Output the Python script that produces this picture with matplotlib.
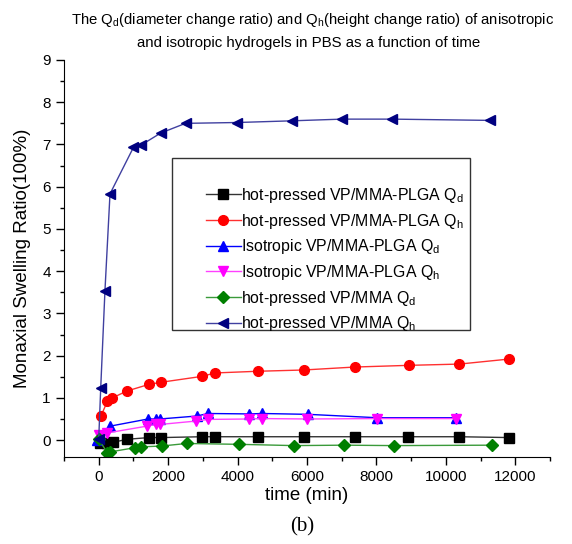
import matplotlib
matplotlib.use("Agg")
import matplotlib.pyplot as plt
from matplotlib.ticker import MultipleLocator
from matplotlib.patches import Rectangle

plt.rcParams['font.family'] = ['Liberation Sans', 'DejaVu Sans']
plt.rcParams['mathtext.fontset'] = 'custom'
plt.rcParams['mathtext.rm'] = 'Liberation Sans'
plt.rcParams['mathtext.it'] = 'Liberation Sans'

# hot-pressed VP/MMA-PLGA Qd
t_pd = [30, 250, 420, 826, 1448, 1800, 2983, 3348, 4590, 5900, 7380, 8920, 10380, 11830]
q_pd = [-0.08, -0.06, -0.05, 0.02, 0.06, 0.06, 0.08, 0.08, 0.08, 0.08, 0.08, 0.08, 0.08, 0.06]
# hot-pressed VP/MMA-PLGA Qh
t_ph = [70, 250, 394, 805, 1448, 1800, 2983, 3348, 4585, 5900, 7370, 8930, 10390, 11830]
q_ph = [0.58, 0.92, 1.00, 1.16, 1.32, 1.37, 1.51, 1.59, 1.63, 1.66, 1.73, 1.77, 1.80, 1.92]
# Isotropic VP/MMA-PLGA Qd
t_id = [-40, 325, 1420, 1660, 1760, 2820, 3155, 4325, 4710, 6035, 8020, 10290]
q_id = [0.00, 0.33, 0.50, 0.50, 0.50, 0.57, 0.63, 0.62, 0.63, 0.61, 0.53, 0.53]
# Isotropic VP/MMA-PLGA Qh
t_ih = [0, 250, 1380, 1640, 1760, 2790, 3155, 4330, 4710, 6000, 8020, 10290]
q_ih = [0.11, 0.17, 0.33, 0.37, 0.37, 0.45, 0.49, 0.50, 0.51, 0.50, 0.51, 0.51]
# hot-pressed VP/MMA Qd
t_md = [0, 250, 325, 1040, 1230, 1813, 2530, 4040, 5620, 7060, 8500, 11330]
q_md = [0.02, -0.30, -0.28, -0.18, -0.16, -0.14, -0.08, -0.10, -0.13, -0.12, -0.13, -0.12]
# hot-pressed VP/MMA Qh
t_mh = [0, 58, 180, 325, 1000, 1210, 1785, 2500, 3990, 5570, 7010, 8450, 11280]
q_mh = [0.02, 1.24, 3.54, 5.83, 6.93, 6.98, 7.27, 7.50, 7.52, 7.56, 7.60, 7.60, 7.57]

labels = [r"hot-pressed VP/MMA-PLGA Q$_\mathregular{d}$",
          r"hot-pressed VP/MMA-PLGA Q$_\mathregular{h}$",
          r"Isotropic VP/MMA-PLGA Q$_\mathregular{d}$",
          r"Isotropic VP/MMA-PLGA Q$_\mathregular{h}$",
          r"hot-pressed VP/MMA Q$_\mathregular{d}$",
          r"hot-pressed VP/MMA Q$_\mathregular{h}$"]

W, H = 572, 544
fig = plt.figure(figsize=(W/100, H/100), dpi=100)
AX_L, AX_R, AX_T, AX_B = 64, 550, 60, 457
ax = fig.add_axes([AX_L/W, 1-AX_B/H, (AX_R-AX_L)/W, (AX_B-AX_T)/H])

def axfrac(px, py):
    return ((px-AX_L)/(AX_R-AX_L), (AX_B-py)/(AX_B-AX_T))

series = [
    (t_pd, q_pd, 's', '#000000', '#333333'),
    (t_ph, q_ph, 'o', '#ff0000', '#ff3030'),
    (t_id, q_id, '^', '#0000ff', '#0000ff'),
    (t_ih, q_ih, 'v', '#ff00ff', '#ff40ff'),
    (t_md, q_md, 'D', '#007f00', '#3a9a3a'),
    (t_mh, q_mh, '<', '#000080', '#4040a0'),
]
ms = {'s': 6.5, 'o': 7, '^': 7.5, 'v': 7.5, 'D': 6, '<': 7.5}
for (t, q, m, c, lc), lab in zip(series, labels):
    ax.plot(t, q, color=lc, lw=1.0, marker=m, markersize=ms[m],
            markerfacecolor=c, markeredgecolor=c, label=lab)

ax.set_xlim(-1000, 13000)
ax.set_ylim(-0.4, 9)
ax.xaxis.set_major_locator(MultipleLocator(2000))
ax.xaxis.set_minor_locator(MultipleLocator(1000))
ax.yaxis.set_major_locator(MultipleLocator(1))
ax.yaxis.set_minor_locator(MultipleLocator(0.5))
ax.spines['top'].set_visible(False)
ax.spines['right'].set_visible(False)
ax.tick_params(which='major', direction='out', length=6, width=1, labelsize=11)
ax.tick_params(which='minor', direction='out', length=3, width=1)

ax.set_ylabel("Monaxial Swelling Ratio(100%)", fontsize=13.5, labelpad=8)
ax.set_xlabel("time (min)", fontsize=13.5, labelpad=2)

# legend frame box
x0, y0 = axfrac(172, 330)
x1, y1 = axfrac(470, 158)
ax.add_patch(Rectangle((x0, y0), x1-x0, y1-y0, transform=ax.transAxes,
                       facecolor='white', edgecolor='#333333', lw=1.0, zorder=4))

leg = ax.legend(loc='upper left', bbox_to_anchor=axfrac(206, 186),
                frameon=False, fontsize=11.4,
                handlelength=2.2, handletextpad=0.0, labelspacing=0.42,
                borderpad=0, borderaxespad=0)
leg.set_zorder(5)

fig.text(313/W, 1-20/H, r"The Q$_\mathregular{d}$(diameter change ratio) and Q$_\mathregular{h}$(height change ratio) of anisotropic",
         ha='center', va='center', fontsize=10.7)
fig.text(309/W, 1-43/H, "and isotropic hydrogels in PBS as a function of time",
         ha='center', va='center', fontsize=10.8)
fig.text(302/W, 1-527/H, "(b)", ha='center', va='center', fontsize=15,
         family=['Liberation Serif', 'DejaVu Serif'])

fig.savefig("out.png", dpi=100)
